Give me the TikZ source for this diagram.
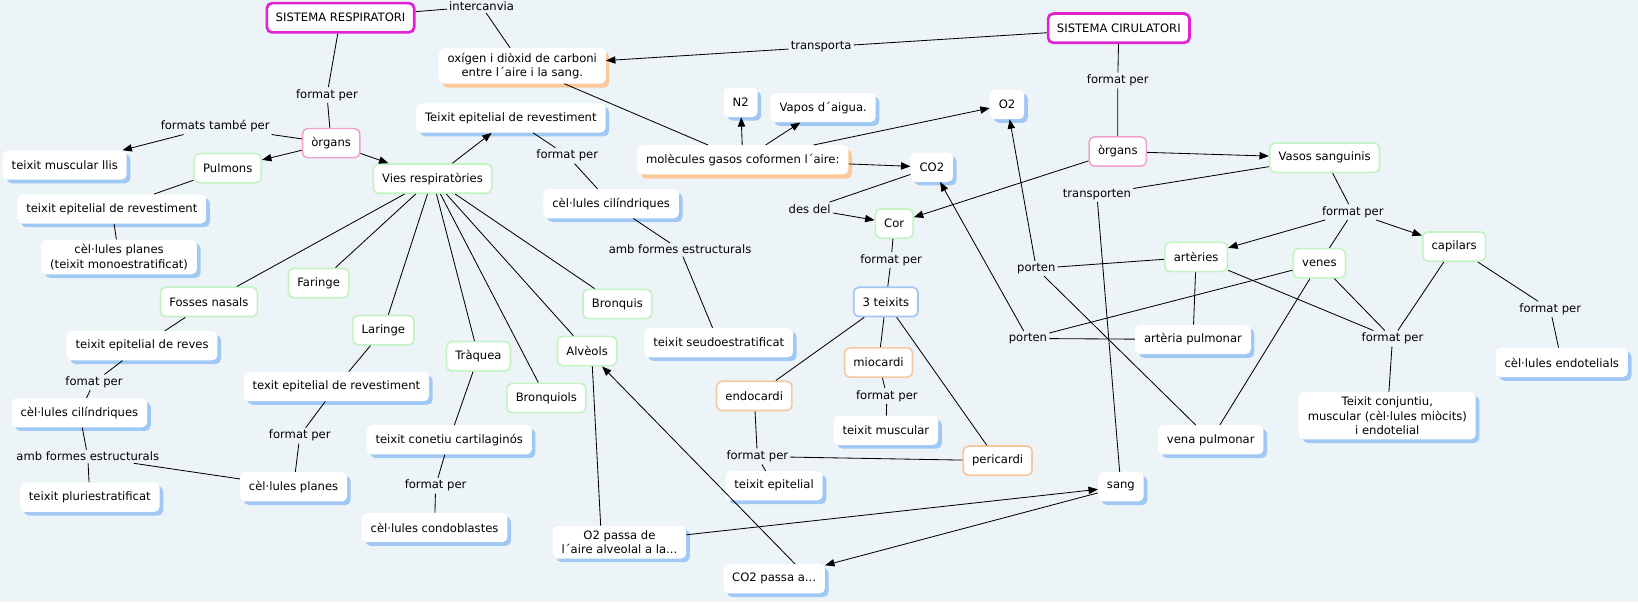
\documentclass[tikz,border=0pt]{standalone}
\usepackage{fontspec}
\setmainfont{DejaVu Sans}
\usetikzlibrary{arrows.meta,shadows}
\definecolor{bgc}{RGB}{237,244,247}
\definecolor{magc}{RGB}{225,35,215}
\definecolor{pinkc}{RGB}{240,160,200}
\definecolor{greenc}{RGB}{195,243,195}
\definecolor{orangec}{RGB}{245,200,160}
\definecolor{bluec}{RGB}{160,200,242}
\definecolor{shblue}{RGB}{160,200,245}
\definecolor{shorange}{RGB}{250,202,155}
\begin{document}
\begin{tikzpicture}[x=1pt,y=-1pt,
  font=\fontsize{11.1}{13.8}\selectfont,
  basebox/.style={rounded corners=5pt, fill=white, inner xsep=8.5pt, inner ysep=4.5pt, minimum height=28pt, align=center},
  sysbox/.style={basebox, draw=magc, line width=2.6pt},
  pinkbox/.style={basebox, draw=pinkc, line width=1.4pt},
  greenbox/.style={basebox, draw=greenc, line width=1.6pt},
  orangebox/.style={basebox, draw=orangec, line width=1.6pt},
  bluebox/.style={basebox, draw=bluec, line width=1.6pt},
  shbbox/.style={basebox, drop shadow={shadow xshift=3.5pt, shadow yshift=-3.5pt, fill=shblue, opacity=1}},
  shobox/.style={basebox, drop shadow={shadow xshift=3.5pt, shadow yshift=-4pt, fill=shorange, opacity=1}},
  lnk/.style={inner sep=2pt},
  conn/.style={line width=0.8pt},
  arr/.style={conn, -{Triangle[length=9pt,width=7pt]}}]
\fill[bgc] (0,0) rectangle (1568,576.3);
\useasboundingbox (0,0) rectangle (1568,576.3);

% ---- top / respiratory
\node[sysbox] (sr) at (326,17) {SISTEMA RESPIRATORI};
\node[lnk] (intc) at (461,6) {intercanvia};
\node[shobox] (oxi) at (500,63) {oxígen i diòxid de carboni\\entre l´aire i la sang.};
\node[sysbox] (sc) at (1071,27) {SISTEMA CIRULATORI};
\node[lnk] (transp) at (786,45) {transporta};
\node[lnk] (fp1) at (313,91) {format per};
\node[pinkbox] (orgL) at (317,137) {òrgans};
\node[lnk] (ftp) at (206,121) {formats també per};
\node[shbbox] (tml) at (62,158) {teixit muscular llis};
\node[greenbox] (pulm) at (218,161) {Pulmons};
\node[greenbox] (vies) at (414,171) {Vies respiratòries};
\node[shbbox] (tepr) at (489,113) {Teixit epitelial de revestiment};
\node[lnk] (fp2) at (543,149) {format per};
\node[shbbox] (ccm) at (585,195) {cèl·lules cilíndriques};
\node[lnk] (afe1) at (651,239) {amb formes estructurals};
\node[shbbox] (tseu) at (688,328) {teixit seudoestratificat};

% ---- gases
\node[shobox] (mol) at (711,153) {molècules gasos coformen l´aire:};
\node[shbbox] (n2) at (709,98) {N2};
\node[shbbox] (vap) at (788,103) {Vapos d´aigua.};
\node[shbbox] (o2) at (964,100) {O2};
\node[shbbox] (co2) at (892,160) {CO2};
\node[lnk] (desdel) at (775,200) {des del};
\node[greenbox] (cor) at (856,214) {Cor};
\node[lnk] (fp3) at (853,249) {format per};
\node[bluebox] (tres) at (848,289) {3 teixits};
\node[orangebox] (mio) at (841,347) {miocardi};
\node[lnk] (fp4) at (849,379) {format per};
\node[shbbox] (tmus) at (848,412) {teixit muscular};
\node[orangebox] (endo) at (722,379) {endocardi};
\node[lnk] (fp5) at (725,437) {format per};
\node[shbbox] (tepi) at (741,465) {teixit epitelial};
\node[orangebox] (peri) at (955,441) {pericardi};
\node[shbbox] (sang) at (1073,466) {sang};
\node[shbbox] (o2p) at (593,519) {O2 passa de\\l´aire alveolal a la...};
\node[shbbox] (co2p) at (741,554) {CO2 passa a...};

% ---- circulatory
\node[lnk] (fp6) at (1070,77) {format per};
\node[pinkbox] (orgR) at (1070,145) {òrgans};
\node[greenbox] (vasos) at (1268,151) {Vasos sanguinis};
\node[lnk] (transpn) at (1050,186) {transporten};
\node[lnk] (fp7) at (1295,203) {format per};
\node[greenbox] (art) at (1145,246) {artèries};
\node[greenbox] (ven) at (1263,252) {venes};
\node[greenbox] (cap) at (1392,236) {capilars};
\node[lnk] (port1) at (992,257) {porten};
\node[lnk] (port2) at (984,324) {porten};
\node[shbbox] (artp) at (1142,325) {artèria pulmonar};
\node[lnk] (fp8) at (1333,324) {format per};
\node[lnk] (fp9) at (1484,296) {format per};
\node[shbbox] (cend) at (1495,347) {cèl·lules endotelials};
\node[shbbox] (tconj) at (1328,398) {Teixit conjuntiu,\\muscular (cèl·lules miòcits)\\i endotelial};
\node[shbbox] (venp) at (1159,421) {vena pulmonar};

% ---- left side
\node[shbbox] (tepL) at (107,200) {teixit epitelial de revestiment};
\node[shbbox] (cpl) at (114,246) {cèl·lules planes\\(teixit monoestratificat)};
\node[greenbox] (fos) at (200,289) {Fosses nasals};
\node[greenbox] (far) at (305,271) {Faringe};
\node[greenbox] (lar) at (367,316) {Laringe};
\node[greenbox] (tra) at (458,341) {Tràquea};
\node[greenbox] (bronq) at (591,291) {Bronquis};
\node[greenbox] (alv) at (562,336) {Alvèols};
\node[greenbox] (bronqls) at (523,381) {Bronquiols};
\node[shbbox] (ter) at (136,331) {teixit epitelial de reves};
\node[lnk] (fomat) at (90,366) {fomat per};
\node[shbbox] (ccl) at (76,395) {cèl·lules cilíndriques};
\node[lnk] (afe2) at (84,437) {amb formes estructurals};
\node[shbbox] (tplu) at (86,476) {teixit pluriestratificat};
\node[shbbox] (texit) at (322,370) {texit epitelial de revestiment};
\node[lnk] (fp10) at (287,417) {format per};
\node[shbbox] (cpl2) at (281,466) {cèl·lules planes};
\node[shbbox] (tcc) at (430,421) {teixit conetiu cartilaginós};
\node[lnk] (fp11) at (417,465) {format per};
\node[shbbox] (ccond) at (416,505) {cèl·lules condoblastes};

% ---- connectors
\draw[conn] (sr) -- (intc) -- (oxi);
\draw[conn] (sc) -- (transp);
\draw[arr] (transp) -- (oxi);
\draw[conn] (sr) -- (fp1) -- (orgL);
\draw[conn] (orgL) -- (ftp);
\draw[arr] (ftp) -- (tml);
\draw[arr] (orgL) -- (pulm);
\draw[arr] (orgL) -- (vies);
\draw[arr] (vies) -- (tepr);
\draw[conn] (tepr) -- (fp2) -- (ccm);
\draw[conn] (ccm) -- (afe1) -- (tseu);
\draw[conn] (vies) -- (fos);
\draw[conn] (vies) -- (far);
\draw[conn] (vies) -- (lar);
\draw[conn] (vies) -- (tra);
\draw[conn] (vies) -- (bronqls);
\draw[conn] (vies) -- (alv);
\draw[conn] (vies) -- (bronq);
\draw[conn] (pulm) -- (tepL);
\draw[conn] (tepL) -- (cpl);
\draw[conn] (fos) -- (ter);
\draw[conn] (ter) -- (fomat) -- (ccl);
\draw[conn] (ccl) -- (afe2) -- (tplu);
\draw[conn] (afe2) -- (cpl2);
\draw[conn] (lar) -- (texit);
\draw[conn] (texit) -- (fp10) -- (cpl2);
\draw[conn] (tra) -- (tcc);
\draw[conn] (tcc) -- (fp11) -- (ccond);

\draw[conn] (oxi) -- (mol);
\draw[arr] (mol) -- (n2);
\draw[arr] (mol) -- (vap);
\draw[arr] (mol) -- (o2);
\draw[arr] (mol) -- (co2);
\draw[conn] (co2) -- (desdel);
\draw[arr] (desdel) -- (cor);
\draw[conn] (cor) -- (fp3) -- (tres);
\draw[conn] (tres) -- (mio);
\draw[conn] (tres) -- (endo);
\draw[conn] (tres) -- (peri);
\draw[conn] (mio) -- (fp4) -- (tmus);
\draw[conn] (endo) -- (fp5) -- (tepi);
\draw[conn] (fp5) -- (peri);

\draw[conn] (sc) -- (fp6) -- (orgR);
\draw[arr] (orgR) -- (vasos);
\draw[arr] (orgR) -- (cor);
\draw[conn] (vasos) -- (transpn) -- (sang);
\draw[conn] (vasos) -- (fp7);
\draw[arr] (fp7) -- (art);
\draw[arr] (fp7) -- (cap);
\draw[conn] (fp7) -- (ven);
\draw[conn] (art) -- (port1);
\draw[arr] (port1) -- (o2);
\draw[conn] (port1) -- (venp);
\draw[conn] (ven) -- (port2);
\draw[conn] (artp) -- (port2);
\draw[arr] (port2) -- (co2);
\draw[conn] (art) -- (artp);
\draw[conn] (ven) -- (venp);
\draw[conn] (art) -- (fp8);
\draw[conn] (ven) -- (fp8);
\draw[conn] (cap) -- (fp8);
\draw[conn] (fp8) -- (tconj);
\draw[conn] (cap) -- (fp9) -- (cend);

\draw[arr] (o2p) -- (sang);
\draw[arr] (sang) -- (co2p);
\draw[conn] ([xshift=5pt]alv.south) -- ([xshift=-18pt]o2p.north);
\draw[arr] ([xshift=20pt]co2p.north) -- (alv);
\end{tikzpicture}
\end{document}
